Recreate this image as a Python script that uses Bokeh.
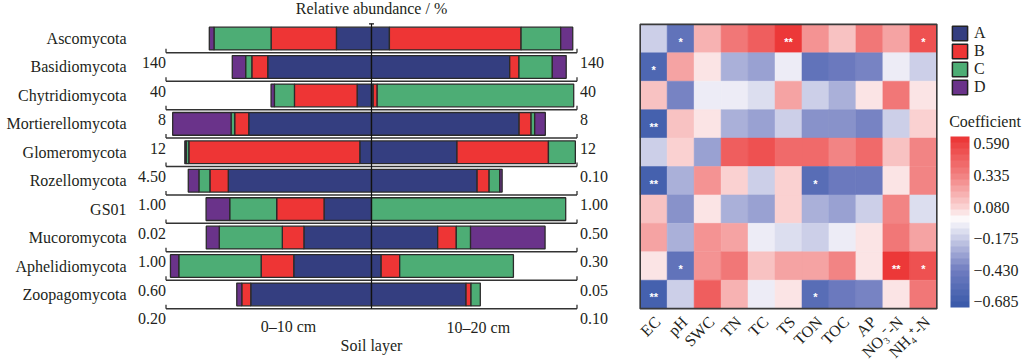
import math
import numpy as np
import pandas as pd
from bokeh.plotting import figure
from bokeh.layouts import row
from bokeh.models import (ColumnDataSource, Range1d, FactorRange, LinearColorMapper, ColorBar,
                          FixedTicker, CustomJSTickFormatter)
from bokeh.transform import transform
from bokeh.core.properties import value
from bokeh.embed import file_html
from bokeh.resources import INLINE

FONT = "Liberation Serif"
TXT = "#231f20"
FS = "16px"
H = 360

# ---------------- data ----------------
phyla = ["Ascomycota", "Basidiomycota", "Chytridiomycota", "Mortierellomycota",
         "Glomeromycota", "Rozellomycota", "GS01", "Mucoromycota",
         "Aphelidiomycota", "Zoopagomycota"]
groups = ["A", "B", "C", "D"]
group_colors = ["#343e80", "#ee3535", "#4dad75", "#6a338a"]
depths = ["0–10 cm", "10–20 cm"]

scale_0_10 = [140, 40, 8, 12, 4.5, 1.0, 0.02, 1.0, 0.6, 0.2]
scale_10_20 = [140, 40, 8, 12, 0.1, 1.0, 0.5, 0.3, 0.05, 0.1]
scale_labels_0_10 = ["140", "40", "8", "12", "4.50", "1.00", "0.02", "1.00", "0.60", "0.20"]
scale_labels_10_20 = ["140", "40", "8", "12", "0.10", "1.00", "0.50", "0.30", "0.05", "0.10"]

# 0–10 cm
A_0_10 = [23.9, 20.2, 0.56, 7.17, 0.256, 0.697, 0.00462, 0.329, 0.227, 0.1175]
B_0_10 = [44.5, 3.1, 2.44, 0.82, 3.745, 0.0895, 0.00461, 0.105, 0.0952, 0.00876]
C_0_10 = [38.9, 1.2, 0.78, 0.21, 0.057, 0.0535, 0.00457, 0.307, 0.2406, 0.0]
D_0_10 = [3.2, 2.6, 0.13, 3.41, 0.03, 0.0516, 0.0023, 0.063, 0.0242, 0.00487]
# 10–20 cm
A_10_20 = [12.2, 26.9, 0.066, 8.62, 0.0416, 0.514, 0.0, 0.0966, 0.00235, 0.046]
B_10_20 = [89.7, 1.8, 0.156, 0.70, 0.0445, 0.0584, 0.0, 0.0272, 0.00451, 0.00243]
C_10_20 = [27.0, 6.5, 7.65, 0.21, 0.0131, 0.0516, 0.4725, 0.0208, 0.02767, 0.00451]
D_10_20 = [8.2, 2.7, 0.0, 0.62, 0.0, 0.0117, 0.0, 0.1088, 0.0, 0.0]

env_vars = ["EC", "pH", "SWC", "TN", "TC", "TS", "TON", "TOC", "AP", "NO₃⁻-N", "NH₄⁺-N"]
coef = [
    [-0.15, -0.50, 0.20, 0.38, 0.50, 0.62, 0.28, 0.15, 0.38, 0.22, 0.52],
    [-0.60, 0.25, 0.05, -0.25, -0.30, -0.06, -0.50, -0.45, -0.40, -0.06, -0.15],
    [0.15, -0.40, -0.06, -0.06, -0.12, 0.22, -0.17, -0.25, 0.05, 0.40, 0.05],
    [-0.68, 0.15, 0.05, -0.25, -0.30, -0.17, -0.35, -0.35, -0.42, -0.17, 0.10],
    [-0.17, 0.10, -0.30, 0.48, 0.52, 0.43, 0.42, 0.33, 0.45, 0.12, 0.32],
    [-0.68, -0.25, 0.30, 0.10, -0.17, 0.10, -0.55, -0.47, -0.45, 0.04, 0.35],
    [0.15, -0.38, 0.03, -0.27, -0.32, 0.10, -0.25, -0.30, -0.15, 0.35, -0.12],
    [0.22, -0.25, 0.30, 0.22, -0.06, -0.12, -0.15, -0.05, 0.04, 0.38, 0.22],
    [0.04, -0.50, 0.30, 0.38, 0.12, 0.25, 0.22, 0.33, 0.04, 0.62, 0.55],
    [-0.68, -0.15, 0.48, 0.17, -0.06, 0.04, -0.55, -0.45, -0.42, 0.05, 0.40],
]
sig = [
    ["", "*", "", "", "", "**", "", "", "", "", "*"],
    ["*", "", "", "", "", "", "", "", "", "", ""],
    ["", "", "", "", "", "", "", "", "", "", ""],
    ["**", "", "", "", "", "", "", "", "", "", ""],
    ["", "", "", "", "", "", "", "", "", "", ""],
    ["**", "", "", "", "", "", "*", "", "", "", ""],
    ["", "", "", "", "", "", "", "", "", "", ""],
    ["", "", "", "", "", "", "", "", "", "", ""],
    ["", "*", "", "", "", "", "", "", "", "**", "*"],
    ["**", "", "", "", "", "", "*", "", "", "", ""],
]
cb_ticks = [-0.685, -0.43, -0.175, 0.08, 0.335, 0.59]
cb_low, cb_high = -0.73, 0.65

TXT_KW = dict(text_font=value(FONT), text_font_size=FS, text_color=TXT,
              text_baseline="middle")

# shared vertical scale: rows indexed 0..9 from the top
Y_RANGE = (11.324, -1.339)

# ---------------- left: stacked bars ----------------
n = len(phyla)
ys = np.arange(n, dtype=float)
vals_0 = [A_0_10, B_0_10, C_0_10, D_0_10]
vals_1 = [A_10_20, B_10_20, C_10_20, D_10_20]

segs = []
for i in range(n):
    for sign, vals, scale in [(-1, vals_0, scale_0_10[i]), (1, vals_1, scale_10_20[i])]:
        cum = 0.0
        for k in range(len(groups)):
            v = vals[k][i]
            if v <= 0:
                continue
            a, b = cum / scale, (cum + v) / scale
            left, right = (-b, -a) if sign < 0 else (a, b)
            segs.append(dict(y=ys[i], left=left, right=right, color=group_colors[k]))
            cum += v
seg_df = pd.DataFrame(segs)

p = figure(width=620, height=H, x_range=Range1d(-1.8054, 1.2117),
           y_range=Range1d(*Y_RANGE), min_border=0, min_border_left=0,
           min_border_right=0, min_border_top=0, min_border_bottom=0,
           toolbar_location=None, output_backend="svg", outline_line_color=None)
p.xaxis.visible = False
p.yaxis.visible = False
p.grid.visible = False

# row baselines with end ticks
p.segment(x0=-1, x1=1, y0=ys + 0.5, y1=ys + 0.5, line_color="#333333", line_width=1.5)
p.segment(x0=np.r_[np.full(n, -1.0), np.full(n, 1.0)],
          x1=np.r_[np.full(n, -1.0), np.full(n, 1.0)],
          y0=np.r_[ys, ys] + 0.5, y1=np.r_[ys, ys] + 0.36,
          line_color="#333333", line_width=1.3)

p.hbar(y="y", left="left", right="right", height=0.8, fill_color="color",
       line_color="#2b2b2b", line_width=1.3, source=ColumnDataSource(seg_df))

# center line
p.segment(x0=0, x1=0, y0=-0.52, y1=n - 0.5, line_color="#111111", line_width=1.2)
p.segment(x0=-0.012, x1=0.012, y0=-0.52, y1=-0.52, line_color="#111111", line_width=1.2)

p.text(x=-1.192, y=ys, text=phyla, text_align="right", **TXT_KW)
p.text(x=-1.0, y=ys + 0.85, text=scale_labels_0_10, text_align="right", **TXT_KW)
p.text(x=1.0, y=ys + 0.85, text=scale_labels_10_20, text_align="left", x_offset=3, **TXT_KW)
p.text(x=[-0.404, 0.52], y=[10.13, 10.16], text=depths, text_align="center", **TXT_KW)
p.text(x=[0], y=[10.80], text=["Soil layer"], text_align="center", **TXT_KW)
p.text(x=[0], y=[-1.06], text=["Relative abundance / %"], text_align="center", **TXT_KW)

# ---------------- heatmap ----------------
stops_v = [-0.73, -0.43, -0.175, -0.02, 0.08, 0.335, 0.65]
stops_c = np.array([(55, 88, 168), (112, 125, 192), (200, 203, 230), (252, 250, 252),
                    (250, 210, 210), (242, 130, 130), (236, 50, 50)], dtype=float)
nb = 28
centers = cb_low + (np.arange(nb) + 0.5) * (cb_high - cb_low) / nb
pal = []
for v in centers:
    rgb = [np.interp(v, stops_v, stops_c[:, j]) for j in range(3)]
    pal.append("#%02x%02x%02x" % tuple(int(round(c)) for c in rgb))
mapper = LinearColorMapper(palette=pal, low=cb_low, high=cb_high)

hm_rows = []
for i, ph in enumerate(phyla):
    for j, ev in enumerate(env_vars):
        hm_rows.append(dict(phylum=ph, row=float(i), var=ev, r=coef[i][j], sig=sig[i][j]))
hm_df = pd.DataFrame(hm_rows)

hm = figure(width=319, height=H,
            x_range=FactorRange(factors=env_vars, range_padding=0.1,
                                range_padding_units="absolute"),
            y_range=Range1d(*Y_RANGE),
            min_border=0, min_border_left=17, min_border_right=0, min_border_top=0,
            min_border_bottom=0, toolbar_location=None, output_backend="svg",
            outline_line_color=None)
hm.rect(x="var", y="row", width=1, height=1, source=ColumnDataSource(hm_df),
        fill_color=transform("r", mapper), line_color=transform("r", mapper), line_width=0.5)
# frame around the cells
hm.rect(x=[env_vars[len(env_vars) // 2]], y=[(n - 1) / 2], width=len(env_vars), height=n,
        fill_color=None, line_color="#3a3a3a", line_width=1.6)
sig_df = hm_df[hm_df["sig"] != ""]
hm.text(x="var", y="row", text="sig", source=ColumnDataSource(sig_df),
        text_color="white", text_font=value("Liberation Sans"), text_font_size="11px",
        text_font_style="bold", text_align="center", text_baseline="middle", y_offset=3)
hm.text(x=env_vars, y=[n - 0.5 + 0.37] * len(env_vars), text=env_vars, angle=math.pi / 4,
        text_align="right", x_offset=4, **TXT_KW)
hm.xaxis.visible = False
hm.yaxis.visible = False
hm.grid.visible = False

# ---------------- legend + colour bar ----------------
lg = figure(width=85, height=H, x_range=Range1d(0, 1), y_range=Range1d(0, 1),
            min_border=0, min_border_left=0, min_border_right=0, min_border_top=0,
            min_border_bottom=0, toolbar_location=None, output_backend="svg",
            outline_line_color=None)
lg.xaxis.visible = False
lg.yaxis.visible = False
lg.grid.visible = False
for g, c in zip(groups, group_colors):
    # placeholder glyph outside the visible range: only its legend swatch is shown
    lg.rect(x=[5], y=[5], width=0.01, height=0.01, fill_color=c, line_color="#222222",
            line_width=1.5, legend_label=g)
leg = lg.legend[0]
leg.location = (11, 264)
leg.padding = 0
leg.margin = 0
leg.spacing = 0
leg.glyph_width = 19
leg.glyph_height = 18
leg.label_height = 18
leg.label_standoff = 5
leg.border_line_color = None
leg.background_fill_alpha = 0
leg.label_text_font = FONT
leg.label_text_font_size = FS
leg.label_text_color = TXT

cb = ColorBar(color_mapper=mapper, ticker=FixedTicker(ticks=cb_ticks),
              formatter=CustomJSTickFormatter(code='return (tick < 0 ? "\u2212" : "") + Math.abs(tick).toFixed(3);'),
              width=19, height=171, location=(11, 53), padding=0, margin=0,
              major_label_text_font=FONT, major_label_text_font_size=FS,
              major_label_text_color=TXT, major_tick_line_color=None,
              minor_tick_line_color=None, bar_line_color=None, label_standoff=4,
              background_fill_alpha=0, border_line_color=None)
lg.add_layout(cb, "center")
lg.text(x=[0.114], y=[0.665], text=["Coefficient"], text_align="left", **TXT_KW)

layout = row(p, hm, lg)
open("out.html", "w").write(file_html(layout, INLINE))
